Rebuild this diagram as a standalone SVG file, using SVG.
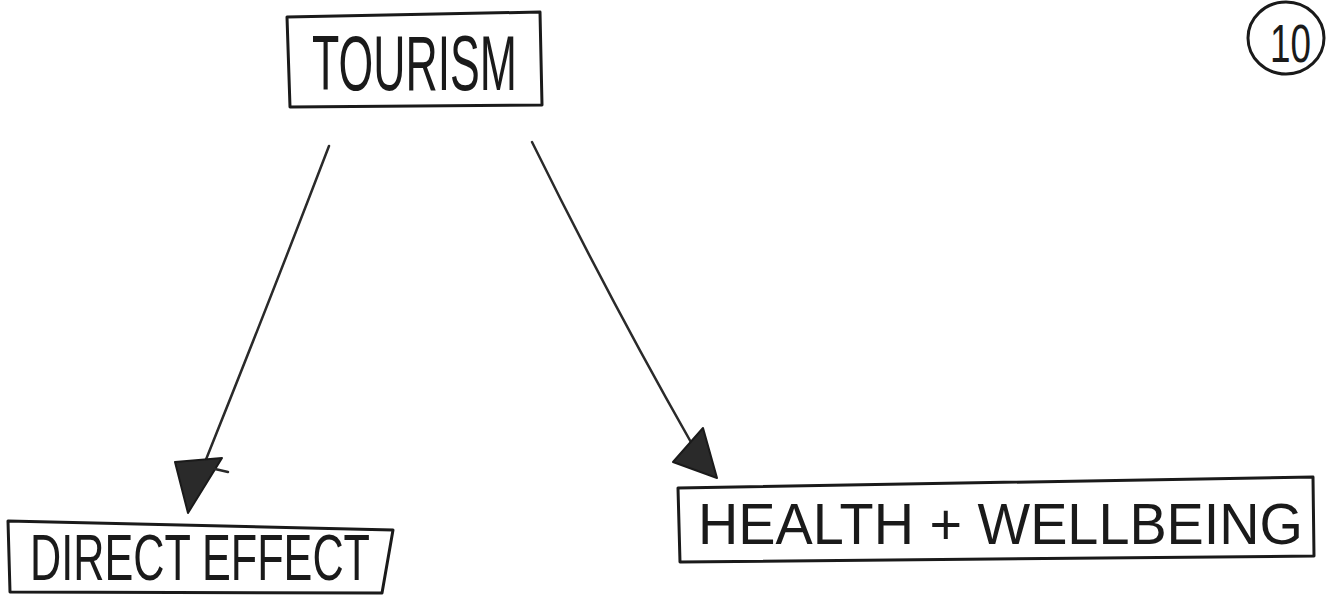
<svg xmlns="http://www.w3.org/2000/svg" width="1331" height="600" viewBox="0 0 1331 600">
  <style>
    .box { fill: none; stroke: #1a1a1a; stroke-width: 3; stroke-linejoin: round; }
    .lbl { font-family: "Liberation Sans", Arial, sans-serif; fill: #1a1a1a; }
    .edge { stroke: #2a2a2a; stroke-width: 2.5; fill: none; stroke-linecap: round; }
    .head { fill: #2a2a2a; stroke: #1a1a1a; stroke-width: 2; stroke-linejoin: round; }
  </style>
  <rect width="1331" height="600" fill="#ffffff"/>

  <g id="connectors">
    <path class="edge" d="M329,146 Q270,300 205,462"/>
    <polygon class="head" points="175,462 222,458 188,513"/>
    <path class="edge" d="M215,469 L228,472"/>
    <path class="edge" d="M532,142 Q610,300 692,444"/>
    <polygon class="head" points="673,462 703,428 717,478"/>
  </g>

  <g id="node-tourism">
    <polygon class="box" points="287,17 540,12 542,105 290,107"/>
    <text class="lbl" x="312" y="90" font-size="78" textLength="205" lengthAdjust="spacingAndGlyphs">TOURISM</text>
  </g>

  <g id="node-page-number">
    <ellipse class="box" cx="1286" cy="38" rx="38" ry="36"/>
    <text class="lbl" x="1270" y="62" font-size="54" textLength="41" lengthAdjust="spacingAndGlyphs">10</text>
  </g>

  <g id="node-direct-effect">
    <polygon class="box" points="8,521 393,530 382,593 10,592"/>
    <text class="lbl" x="30" y="580" font-size="64" textLength="340" lengthAdjust="spacingAndGlyphs">DIRECT EFFECT</text>
  </g>

  <g id="node-health">
    <polygon class="box" points="678,488 1313,477 1314,556 680,562"/>
    <text class="lbl" x="698" y="544" font-size="58" textLength="605" lengthAdjust="spacingAndGlyphs">HEALTH + WELLBEING</text>
  </g>
</svg>
